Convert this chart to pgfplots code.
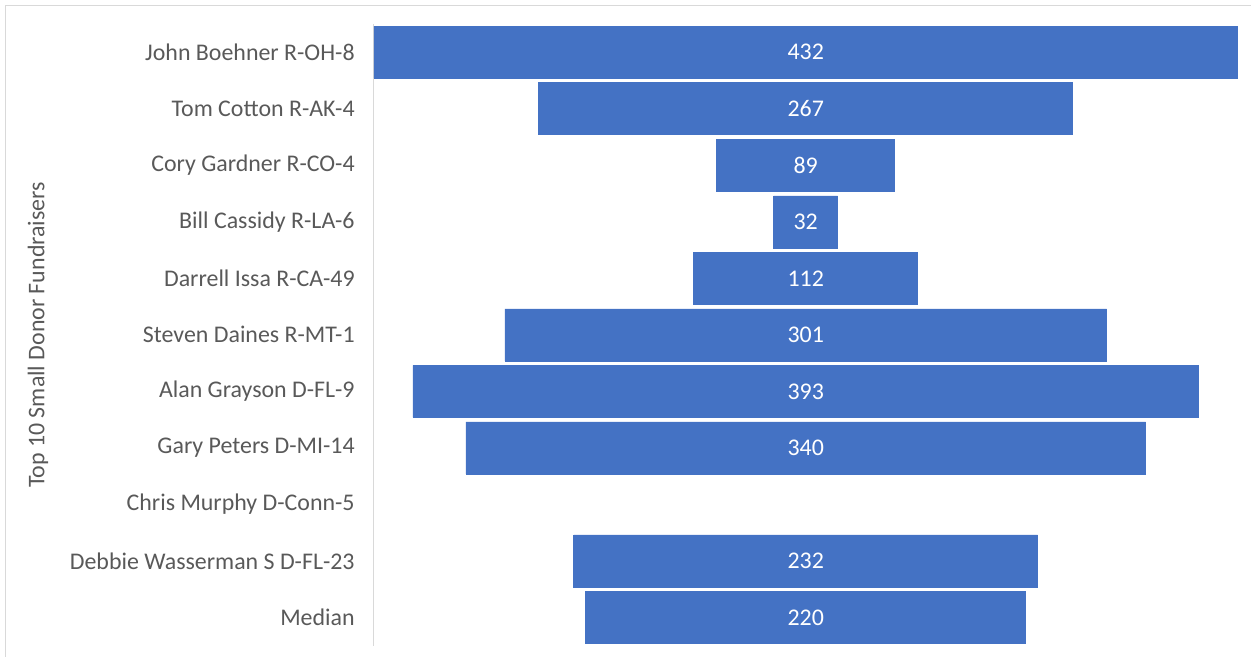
\documentclass[border=0pt]{standalone}
\usepackage{pgfplots}
\pgfplotsset{compat=1.18}
\usepackage{pgfplotstable}
\usepackage{fontspec}
\setmainfont{Carlito}
\definecolor{barblue}{HTML}{4472C4}
\definecolor{labgray}{HTML}{595959}
\definecolor{linegray}{HTML}{D9D9D9}

% small-donor totals per member; Chris Murphy has no figure
\pgfplotstableread{
idx v
0 432
1 267
2 89
3 32
4 112
5 301
6 393
7 340
8 nan
9 232
10 220
}\donors

\begin{document}
\begin{tikzpicture}[x=1bp,y=1bp]
\path (0,0) rectangle (1251,657);
\draw[linegray, line width=1bp] (6,0) -- (6,651) -- (1251,651);
\begin{axis}[
  at={(374bp,11bp)}, anchor=south west,
  scale only axis, width=864bp, height=622bp,
  xmin=-216, xmax=216, ymin=-0.5, ymax=10.5, y dir=reverse,
  axis x line=none, axis y line*=left,
  y axis line style={linegray, line width=1bp, -},
  ytick={0,...,10},
  yticklabels={John Boehner R-OH-8, Tom Cotton R-AK-4, Cory Gardner R-CO-4,
    Bill Cassidy R-LA-6, Darrell Issa R-CA-49, Steven Daines R-MT-1,
    Alan Grayson D-FL-9, Gary Peters D-MI-14, Chris Murphy D-Conn-5,
    Debbie Wasserman S D-FL-23, Median},
  major tick length=0pt,
  yticklabel style={font=\fontsize{24}{28}\selectfont, text=labgray, inner sep=0pt, xshift=-19bp},
  ylabel={Top 10 Small Donor Fundraisers},
  ylabel style={at={(axis description cs:-0.3889,0.5)}, anchor=center,
    font=\fontsize{24}{28}\selectfont, text=labgray},
  unbounded coords=discard,
  /pgf/number format/assume math mode=true,
  clip=false,
]
% each bar is drawn as two halves about the centre line
\addplot[xbar, bar width=0.92, bar shift=0pt, fill=barblue, draw=barblue, line width=0.6bp]
  table[x expr=\thisrow{v}/2, y=idx]{\donors};
\addplot[xbar, bar width=0.92, bar shift=0pt, fill=barblue, draw=barblue, line width=0.6bp]
  table[x expr=-\thisrow{v}/2, y=idx]{\donors};
\addplot[draw=none, mark=none, nodes near coords, point meta=explicit,
  every node near coord/.append style={anchor=center, text=white,
    font=\fontsize{24}{28}\selectfont}]
  table[x expr=\thisrow{v}*0, y=idx, meta=v]{\donors};
\end{axis}
\end{tikzpicture}
\end{document}
